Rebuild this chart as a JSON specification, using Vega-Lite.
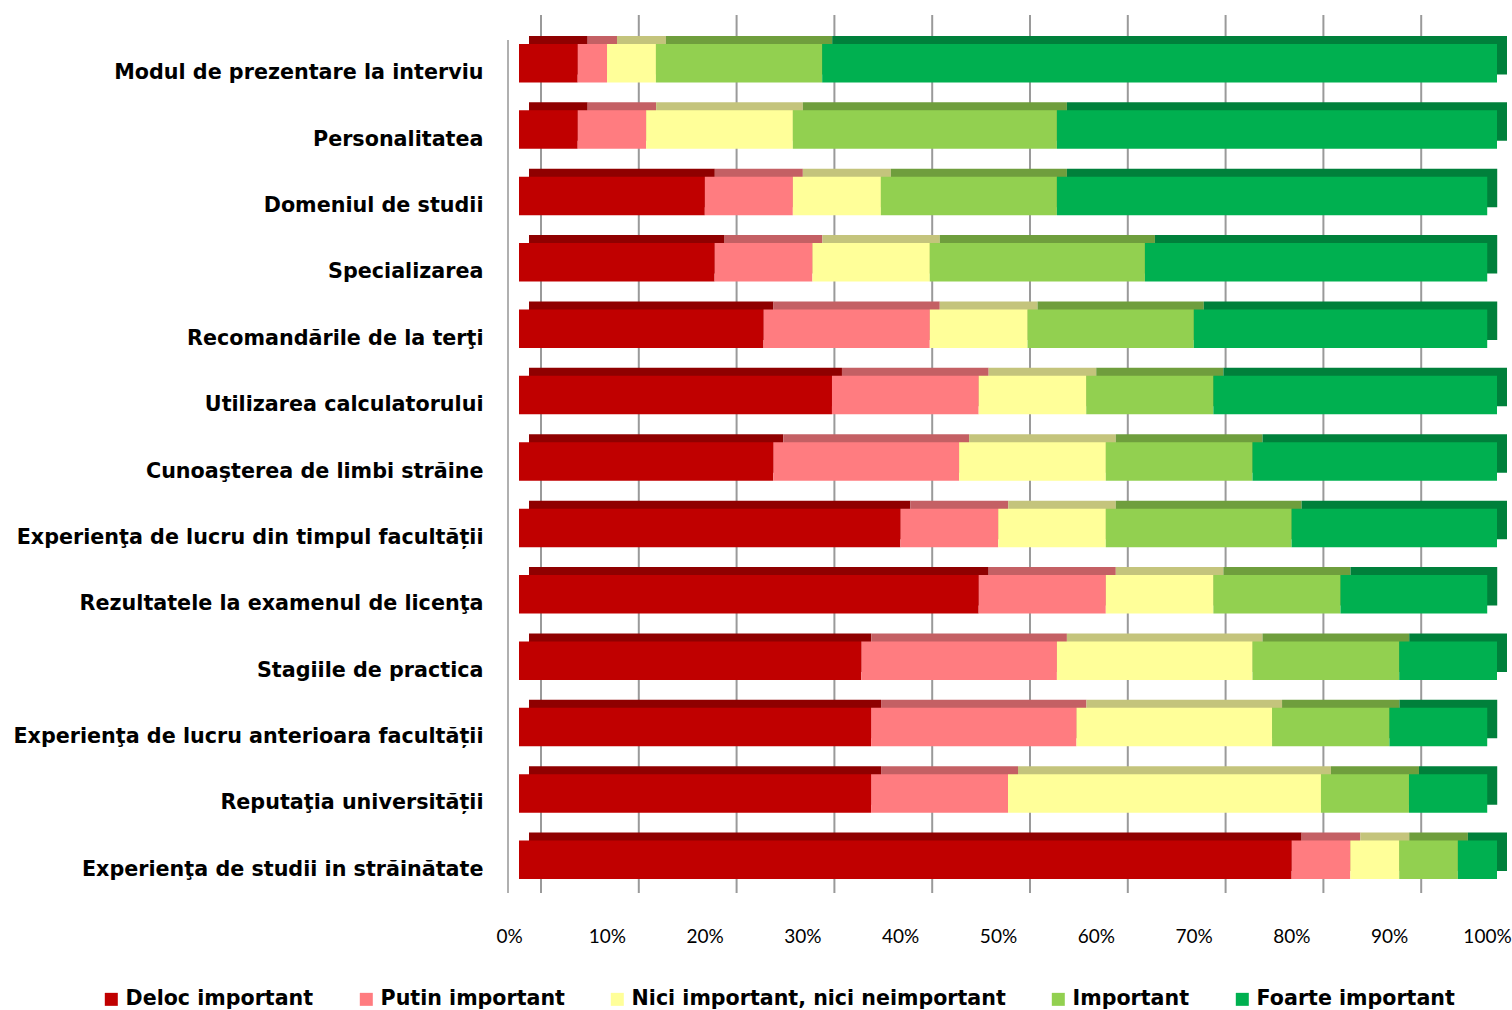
{
  "$schema": "https://vega.github.io/schema/vega-lite/v6.json",
  "autosize": {"type": "none"},
  "width": 978,
  "height": 863,
  "padding": {"left": 519, "top": 30, "right": 15, "bottom": 117},
  "background": "white",
  "config": {"view": {"stroke": null}},
  "data": {"values": [
    {"f": "Modul de prezentare la interviu", "c": "Deloc important", "o": 1, "v": 6},
    {"f": "Modul de prezentare la interviu", "c": "Putin important", "o": 2, "v": 3},
    {"f": "Modul de prezentare la interviu", "c": "Nici important, nici neimportant", "o": 3, "v": 5},
    {"f": "Modul de prezentare la interviu", "c": "Important", "o": 4, "v": 17},
    {"f": "Modul de prezentare la interviu", "c": "Foarte important", "o": 5, "v": 69},
    {"f": "Personalitatea", "c": "Deloc important", "o": 1, "v": 6},
    {"f": "Personalitatea", "c": "Putin important", "o": 2, "v": 7},
    {"f": "Personalitatea", "c": "Nici important, nici neimportant", "o": 3, "v": 15},
    {"f": "Personalitatea", "c": "Important", "o": 4, "v": 27},
    {"f": "Personalitatea", "c": "Foarte important", "o": 5, "v": 45},
    {"f": "Domeniul de studii", "c": "Deloc important", "o": 1, "v": 19},
    {"f": "Domeniul de studii", "c": "Putin important", "o": 2, "v": 9},
    {"f": "Domeniul de studii", "c": "Nici important, nici neimportant", "o": 3, "v": 9},
    {"f": "Domeniul de studii", "c": "Important", "o": 4, "v": 18},
    {"f": "Domeniul de studii", "c": "Foarte important", "o": 5, "v": 44},
    {"f": "Specializarea", "c": "Deloc important", "o": 1, "v": 20},
    {"f": "Specializarea", "c": "Putin important", "o": 2, "v": 10},
    {"f": "Specializarea", "c": "Nici important, nici neimportant", "o": 3, "v": 12},
    {"f": "Specializarea", "c": "Important", "o": 4, "v": 22},
    {"f": "Specializarea", "c": "Foarte important", "o": 5, "v": 35},
    {"f": "Recomandările de la terţi", "c": "Deloc important", "o": 1, "v": 25},
    {"f": "Recomandările de la terţi", "c": "Putin important", "o": 2, "v": 17},
    {"f": "Recomandările de la terţi", "c": "Nici important, nici neimportant", "o": 3, "v": 10},
    {"f": "Recomandările de la terţi", "c": "Important", "o": 4, "v": 17},
    {"f": "Recomandările de la terţi", "c": "Foarte important", "o": 5, "v": 30},
    {"f": "Utilizarea calculatorului", "c": "Deloc important", "o": 1, "v": 32},
    {"f": "Utilizarea calculatorului", "c": "Putin important", "o": 2, "v": 15},
    {"f": "Utilizarea calculatorului", "c": "Nici important, nici neimportant", "o": 3, "v": 11},
    {"f": "Utilizarea calculatorului", "c": "Important", "o": 4, "v": 13},
    {"f": "Utilizarea calculatorului", "c": "Foarte important", "o": 5, "v": 29},
    {"f": "Cunoaşterea de limbi străine", "c": "Deloc important", "o": 1, "v": 26},
    {"f": "Cunoaşterea de limbi străine", "c": "Putin important", "o": 2, "v": 19},
    {"f": "Cunoaşterea de limbi străine", "c": "Nici important, nici neimportant", "o": 3, "v": 15},
    {"f": "Cunoaşterea de limbi străine", "c": "Important", "o": 4, "v": 15},
    {"f": "Cunoaşterea de limbi străine", "c": "Foarte important", "o": 5, "v": 25},
    {"f": "Experienţa de lucru din timpul facultății", "c": "Deloc important", "o": 1, "v": 39},
    {"f": "Experienţa de lucru din timpul facultății", "c": "Putin important", "o": 2, "v": 10},
    {"f": "Experienţa de lucru din timpul facultății", "c": "Nici important, nici neimportant", "o": 3, "v": 11},
    {"f": "Experienţa de lucru din timpul facultății", "c": "Important", "o": 4, "v": 19},
    {"f": "Experienţa de lucru din timpul facultății", "c": "Foarte important", "o": 5, "v": 21},
    {"f": "Rezultatele la examenul de licenţa", "c": "Deloc important", "o": 1, "v": 47},
    {"f": "Rezultatele la examenul de licenţa", "c": "Putin important", "o": 2, "v": 13},
    {"f": "Rezultatele la examenul de licenţa", "c": "Nici important, nici neimportant", "o": 3, "v": 11},
    {"f": "Rezultatele la examenul de licenţa", "c": "Important", "o": 4, "v": 13},
    {"f": "Rezultatele la examenul de licenţa", "c": "Foarte important", "o": 5, "v": 15},
    {"f": "Stagiile de practica", "c": "Deloc important", "o": 1, "v": 35},
    {"f": "Stagiile de practica", "c": "Putin important", "o": 2, "v": 20},
    {"f": "Stagiile de practica", "c": "Nici important, nici neimportant", "o": 3, "v": 20},
    {"f": "Stagiile de practica", "c": "Important", "o": 4, "v": 15},
    {"f": "Stagiile de practica", "c": "Foarte important", "o": 5, "v": 10},
    {"f": "Experienţa de lucru anterioara facultății", "c": "Deloc important", "o": 1, "v": 36},
    {"f": "Experienţa de lucru anterioara facultății", "c": "Putin important", "o": 2, "v": 21},
    {"f": "Experienţa de lucru anterioara facultății", "c": "Nici important, nici neimportant", "o": 3, "v": 20},
    {"f": "Experienţa de lucru anterioara facultății", "c": "Important", "o": 4, "v": 12},
    {"f": "Experienţa de lucru anterioara facultății", "c": "Foarte important", "o": 5, "v": 10},
    {"f": "Reputaţia universității", "c": "Deloc important", "o": 1, "v": 36},
    {"f": "Reputaţia universității", "c": "Putin important", "o": 2, "v": 14},
    {"f": "Reputaţia universității", "c": "Nici important, nici neimportant", "o": 3, "v": 32},
    {"f": "Reputaţia universității", "c": "Important", "o": 4, "v": 9},
    {"f": "Reputaţia universității", "c": "Foarte important", "o": 5, "v": 8},
    {"f": "Experienţa de studii in străinătate", "c": "Deloc important", "o": 1, "v": 79},
    {"f": "Experienţa de studii in străinătate", "c": "Putin important", "o": 2, "v": 6},
    {"f": "Experienţa de studii in străinătate", "c": "Nici important, nici neimportant", "o": 3, "v": 5},
    {"f": "Experienţa de studii in străinătate", "c": "Important", "o": 4, "v": 6},
    {"f": "Experienţa de studii in străinătate", "c": "Foarte important", "o": 5, "v": 4}
  ]},
  "resolve": {"scale": {"color": "independent"}, "axis": {"x": "independent", "y": "independent"}},
  "layer": [
    {
      "data": {"values": [{"t": 0}, {"t": 10}, {"t": 20}, {"t": 30}, {"t": 40}, {"t": 50}, {"t": 60}, {"t": 70}, {"t": 80}, {"t": 90}, {"t": 100}]},
      "mark": {"type": "rule", "color": "#9a9a9a", "strokeWidth": 2, "xOffset": 22, "yOffset": -15, "y2Offset": -15},
      "encoding": {
        "x": {"field": "t", "type": "quantitative", "scale": {"domain": [0, 100], "nice": false, "zero": false}, "axis": null}
      }
    },
    {
      "data": {"values": [{"t": 0}]},
      "mark": {"type": "rule", "color": "#b0b0b0", "strokeWidth": 2, "xOffset": -11, "yOffset": 10, "y2Offset": 7},
      "encoding": {
        "x": {"field": "t", "type": "quantitative", "axis": null}
      }
    },
    {
      "mark": {"type": "bar", "xOffset": 10, "x2Offset": 10, "yOffset": -8},
      "encoding": {
        "y": {"field": "f", "type": "nominal", "sort": null, "scale": {"paddingInner": 0.42, "paddingOuter": 0.21}, "axis": null},
        "x": {"field": "v", "type": "quantitative", "stack": "zero", "axis": null},
        "order": {"field": "o", "type": "quantitative"},
        "color": {"field": "c", "type": "nominal", "legend": null,
          "scale": {"domain": ["Deloc important", "Putin important", "Nici important, nici neimportant", "Important", "Foarte important"],
                    "range": ["#8f0000", "#c46064", "#c4c47c", "#6f9e3d", "#00803b"]}}
      }
    },
    {
      "mark": {"type": "bar"},
      "encoding": {
        "y": {"field": "f", "type": "nominal", "sort": null,
          "axis": {"title": null, "domain": false, "ticks": false, "labelPadding": 36, "labelOffset": 10,
                   "labelFont": "DejaVu Sans", "labelFontWeight": "bold", "labelFontSize": 20.7, "labelColor": "#000000", "labelLimit": 900}},
        "x": {"field": "v", "type": "quantitative", "stack": "zero",
          "axis": {"title": null, "domain": false, "ticks": false, "grid": false, "values": [0, 10, 20, 30, 40, 50, 60, 70, 80, 90, 100],
                   "labelExpr": "datum.value + '%'", "labelOffset": -10, "labelPadding": 34,
                   "labelFont": "Lato", "labelFontSize": 19, "labelColor": "#000000", "labelFlush": false}},
        "order": {"field": "o", "type": "quantitative"},
        "color": {"field": "c", "type": "nominal",
          "scale": {"domain": ["Deloc important", "Putin important", "Nici important, nici neimportant", "Important", "Foarte important"],
                    "range": ["#c00000", "#ff7c80", "#ffff99", "#92d050", "#00b050"]},
          "legend": {"orient": "none", "direction": "horizontal", "legendX": -418, "legendY": 959, "title": null,
                     "symbolType": "square", "symbolSize": 169, "symbolStrokeWidth": 0, "padding": 0,
                     "labelFont": "DejaVu Sans", "labelFontWeight": "bold", "labelFontSize": 20.6, "labelColor": "#000000",
                     "labelOffset": 4, "columnPadding": 42, "labelLimit": 600}}
      }
    }
  ]
}
